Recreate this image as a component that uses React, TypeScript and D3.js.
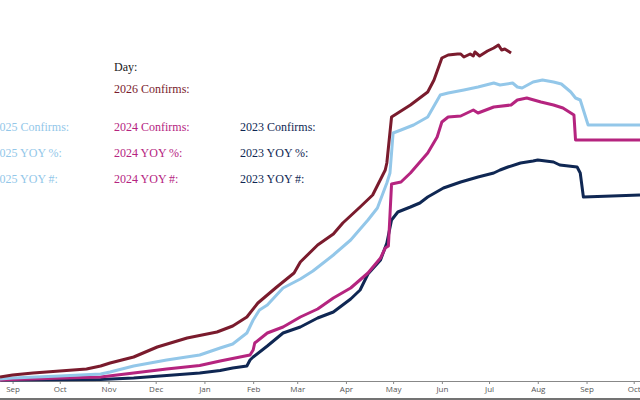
import React, { useRef, useEffect } from "react"
import * as d3 from "d3"

// season day 0 = Sep 1 of the season's start year; values are cumulative confirms
type Pt = [number, number]

const seasonStart = new Date(2025, 8, 1)

const confirms2026: Pt[] = [
  [-8, 30], [0, 50], [13, 70], [30, 90], [47, 110], [56, 140], [62, 170], [77, 230], [92, 330],
  [111, 420], [130, 480], [140, 540], [149, 630], [156, 770], [168, 930], [179, 1070], [183, 1180],
  [194, 1350], [204, 1460], [210, 1570], [221, 1730], [229, 1850], [237, 2100], [238, 2170],
  [241, 2630], [245, 2670], [253, 2750], [264, 2880], [268, 3000], [273, 3220], [277, 3250],
  [283, 3260], [285, 3260], [287, 3230], [291, 3260], [293, 3240], [294, 3280], [297, 3240],
  [302, 3290], [306, 3320], [309, 3350], [311, 3300], [313, 3310], [317, 3270],
]

const confirms2025: Pt[] = [
  [-8, 10], [0, 20], [30, 40], [56, 60], [62, 80], [77, 140], [98, 200], [119, 250], [132, 320],
  [140, 360], [149, 470], [153, 600], [157, 700], [162, 750], [172, 920], [183, 1010], [191, 1090],
  [204, 1250], [215, 1400], [226, 1600], [232, 1720], [238, 1970], [240, 2070], [242, 2470],
  [247, 2500], [255, 2550], [264, 2630], [272, 2850], [277, 2870], [287, 2900], [296, 2930],
  [306, 2970], [310, 2950], [318, 2970], [321, 2930], [324, 2920], [331, 2980], [337, 3000],
  [344, 2980], [349, 2960], [355, 2880], [358, 2820], [361, 2800], [363, 2700], [366, 2550],
  [399, 2550],
]

const confirms2024: Pt[] = [
  [-8, 0], [0, 5], [56, 30], [77, 70], [98, 110], [119, 145], [132, 190], [151, 250], [153, 300],
  [154, 370], [162, 470], [172, 530], [183, 630], [194, 710], [204, 820], [215, 920], [226, 1070],
  [234, 1220], [237, 1320], [239, 1340], [241, 1960], [247, 1980], [253, 2070], [264, 2270],
  [270, 2430], [273, 2580], [277, 2630], [285, 2640], [293, 2700], [296, 2670], [306, 2730],
  [317, 2750], [321, 2800], [327, 2820], [336, 2780], [344, 2750], [350, 2720], [355, 2670],
  [357, 2650], [358, 2400], [399, 2400],
]

const confirms2023: Pt[] = [
  [-8, 0], [0, 0], [56, 5], [77, 20], [98, 45], [119, 70], [132, 95], [140, 120], [149, 140],
  [151, 200], [153, 230], [162, 340], [172, 470], [183, 530], [194, 620], [204, 680], [215, 810],
  [221, 900], [226, 1060], [234, 1200], [238, 1370], [241, 1600], [245, 1680], [253, 1730],
  [259, 1770], [264, 1830], [274, 1920], [285, 1980], [296, 2030], [306, 2070], [310, 2100],
  [315, 2130], [323, 2170], [331, 2190], [334, 2200], [344, 2180], [348, 2150], [359, 2130],
  [361, 2070], [363, 1830], [399, 1850],
]

const seriesColors = ["#0f2753", "#b5247f", "#93c7e9", "#7a1b2d"]
const seriesData = [confirms2023, confirms2024, confirms2025, confirms2026]

// hover readout labels, values blank until a day is picked
const readoutRows = ["Confirms:", "YOY %:", "YOY #:"]
const readoutCols = ["2025", "2024", "2023"]

const width = 640
const height = 400

const App: React.FC = () => {
  const svgRef = useRef<SVGSVGElement>(null)

  useEffect(() => {
    if (!svgRef.current) return
    const svg = d3.select(svgRef.current)
    svg.selectAll("*").remove()

    const x = d3.scaleTime()
      .domain([d3.timeDay.offset(seasonStart, -8), new Date(2026, 9, 5)])
      .range([0, width])
    const y = d3.scaleLinear().domain([0, 3500]).range([380, 30])

    const toDate = (d: number) => d3.timeDay.offset(seasonStart, d)

    // month axis
    const axis = d3.axisBottom(x)
      .ticks(d3.timeMonth.every(1))
      .tickFormat(d3.timeFormat("%b") as any)
      .tickSize(3)
      .tickSizeOuter(0)

    const axisG = svg.append("g")
      .attr("transform", "translate(0,381)")
      .call(axis)
    axisG.select(".domain").attr("stroke", "#888")
    axisG.selectAll(".tick line").attr("stroke", "#888")
    axisG.selectAll(".tick text")
      .attr("fill", "#555")
      .attr("font-family", "'Open Sans', sans-serif")
      .attr("font-size", 8)
      .attr("dy", "0.6em")

    const line = d3.line<Pt>()
      .x(d => x(toDate(d[0])))
      .y(d => y(d[1]))
      .curve(d3.curveLinear)

    seriesData.forEach((data, i) => {
      svg.append("path")
        .datum(data)
        .attr("fill", "none")
        .attr("stroke", seriesColors[i])
        .attr("stroke-width", 3)
        .attr("stroke-linejoin", "round")
        .attr("d", line)
    })

    // readout text
    const txt = svg.append("g")
      .attr("font-family", "'Liberation Serif', serif")
      .attr("font-size", 12)
    txt.append("text").attr("x", 114).attr("y", 71).attr("fill", "#1a1a1a").text("Day:")
    txt.append("text").attr("x", 114).attr("y", 93).attr("fill", seriesColors[3]).text("2026 Confirms:")

    const colX = [-6.5, 114, 240]
    const colColor = [seriesColors[2], seriesColors[1], seriesColors[0]]
    readoutCols.forEach((yr, c) => {
      readoutRows.forEach((row, r) => {
        txt.append("text")
          .attr("x", colX[c])
          .attr("y", 131 + r * 26)
          .attr("fill", colColor[c])
          .text(`${yr} ${row}`)
      })
    })

    svg.append("line")
      .attr("x1", 0).attr("x2", width)
      .attr("y1", 399).attr("y2", 399)
      .attr("stroke", "#444")
      .attr("stroke-width", 1.5)
  }, [])

  return (
    <svg
      ref={svgRef}
      width={width}
      height={height}
      style={{ position: "absolute", left: 0, top: 0, background: "#fff" }}
    />
  )
}

export default App
